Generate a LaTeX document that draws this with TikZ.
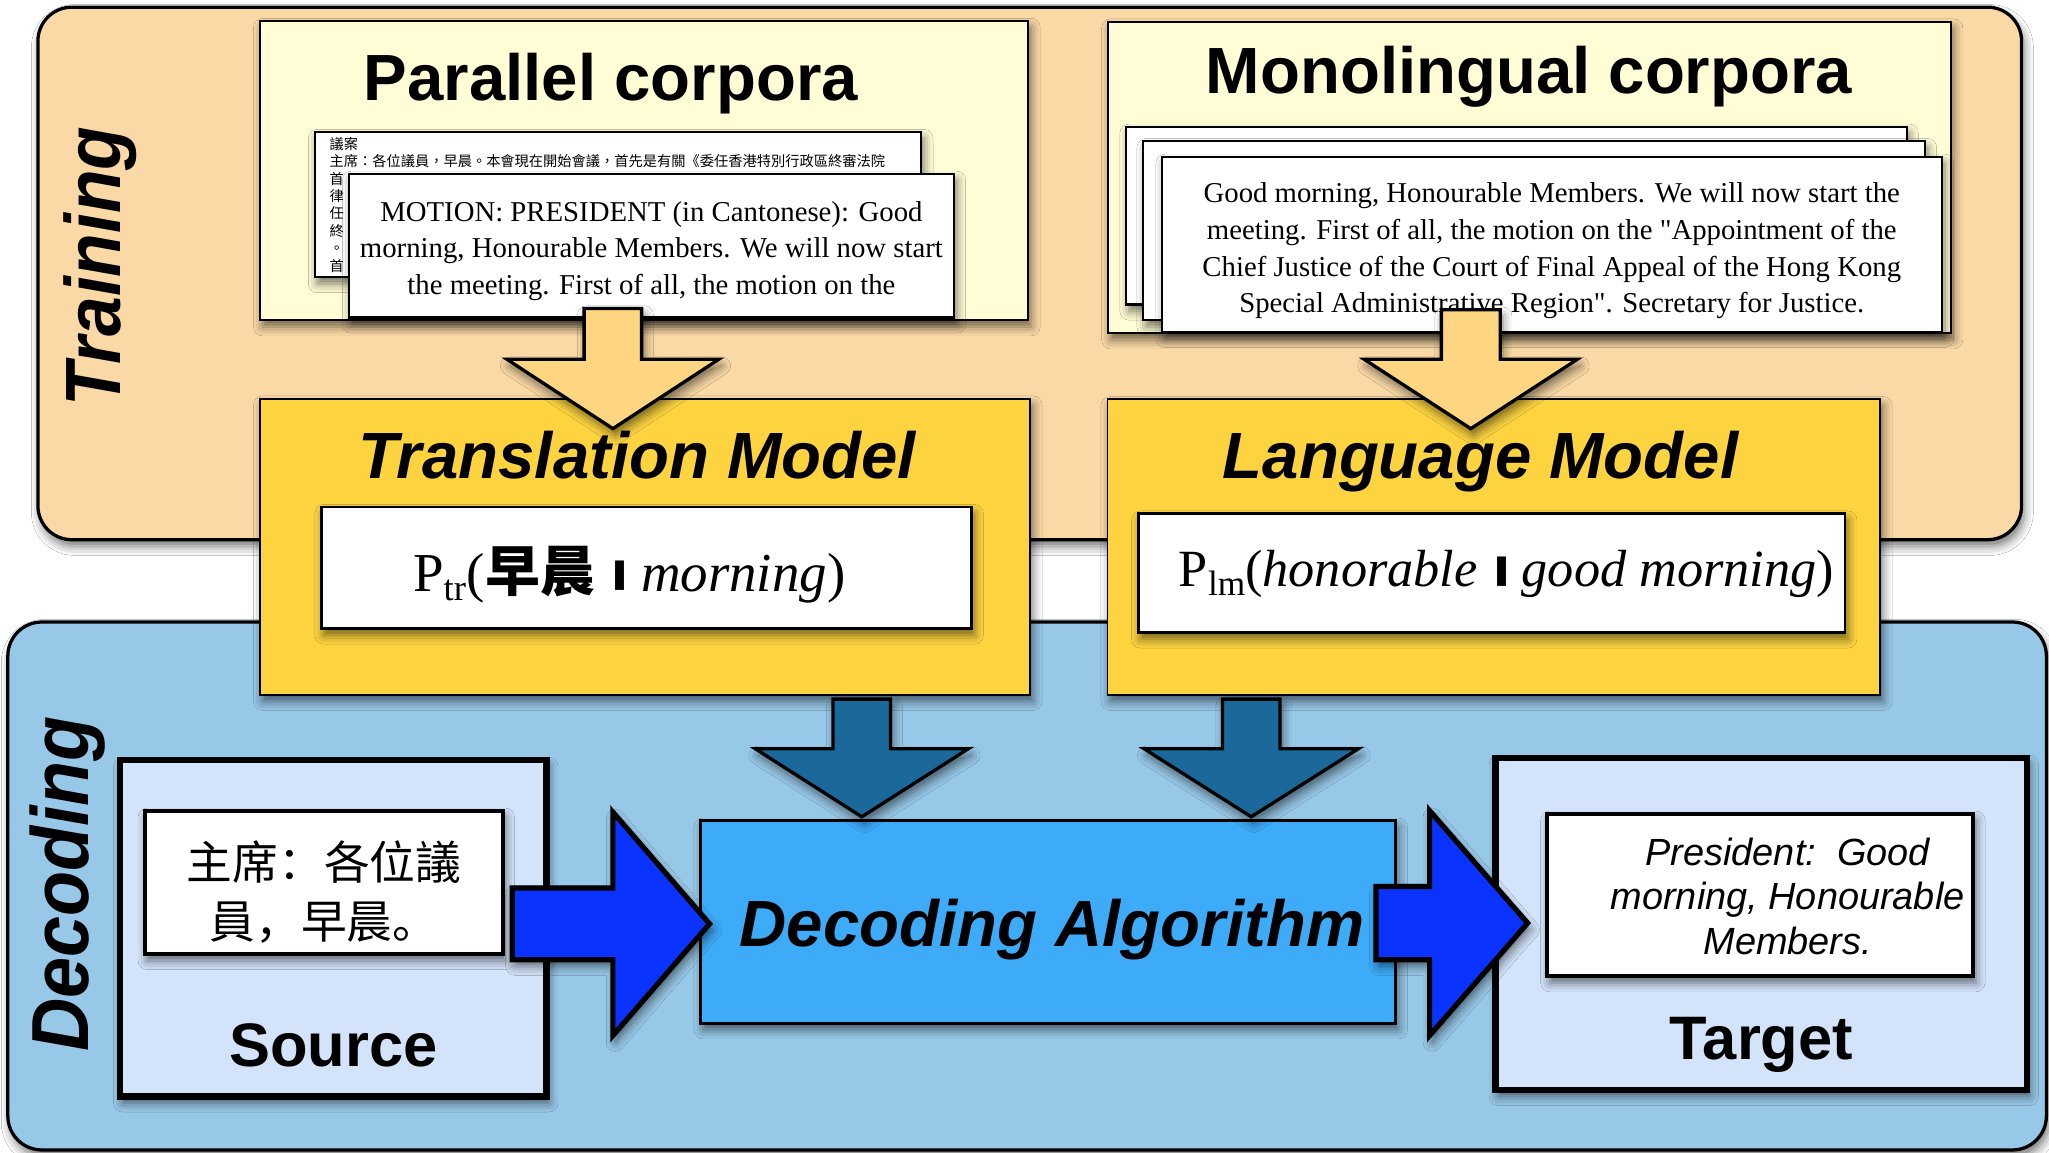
\documentclass[tikz,border=0pt]{standalone}
\usepackage{fontspec}
\usepackage{graphicx}
\setmainfont{Liberation Serif}[Ligatures=TeXOff]
\setsansfont{Liberation Sans}
\newfontfamily\cnfont{Noto Sans CJK TC}
\newfontfamily\cnsc{Noto Sans CJK SC}
\newfontfamily\narrowsans[FakeStretch=0.91]{Liberation Sans}
\usetikzlibrary{fit,shadows.blur}

\definecolor{trainbg}{HTML}{FAD9A6}
\definecolor{decbg}{HTML}{98C8E8}
\definecolor{corpbg}{HTML}{FFFCD6}
\definecolor{modelbg}{HTML}{FDD440}
\definecolor{orarrow}{HTML}{FED580}
\definecolor{darkarrow}{HTML}{1B689A}
\definecolor{algobg}{HTML}{3EABF9}
\definecolor{stbg}{HTML}{D2E3FA}
\definecolor{bluearrow}{HTML}{0A33FF}

% block arrows: style, centre, shaft half width, start, head base, head half width, tip
\newcommand\blockarrowdown[7]{\draw[#1] ({#2-#3},#4) -- ({#2+#3},#4) -- ({#2+#3},#5) -- ({#2+#6},#5) -- (#2,#7) -- ({#2-#6},#5) -- ({#2-#3},#5) -- cycle;}
\newcommand\blockarrowright[7]{\draw[#1] (#4,{#2-#3}) -- (#5,{#2-#3}) -- (#5,{#2-#6}) -- (#7,#2) -- (#5,{#2+#6}) -- (#5,{#2+#3}) -- (#4,{#2+#3}) -- cycle;}
\newcommand\condbar{{\sffamily\bfseries\fontsize{28}{28}\selectfont\raisebox{5.8pt}{\scalebox{1.9}[0.85]{|}}}}

\begin{document}
\begin{tikzpicture}[x=1pt,y=-1pt,
  shad/.style={blur shadow={shadow xshift=2pt,shadow yshift=-5pt,shadow blur radius=7pt,shadow opacity=55}},
  fitbox/.style={fit={#1},inner sep=0pt,outer sep=0pt},
  panel/.style={draw=black,line width=2.5pt,rounded corners=26pt,shad},
  corpus/.style={draw=black,line width=1.5pt,fill=corpbg,shad},
  doc/.style={draw=black,line width=1.6pt,fill=white,shad},
  model/.style={draw=black,line width=1.5pt,fill=modelbg,shad},
  formula/.style={draw=black,line width=2pt,fill=white,shad},
  algo/.style={draw=black,line width=2.5pt,fill=algobg,shad},
  stbox/.style={draw=black,line width=5pt,fill=stbg,shad},
  stinner/.style={draw=black,line width=3pt,fill=white,shad},
  orange arrow/.style={draw=black,line width=2.5pt,fill=orarrow,line join=miter,shad},
  dark arrow/.style={draw=black,line width=2.5pt,fill=darkarrow,line join=miter,shad},
  blue arrow/.style={draw=black,line width=4pt,fill=bluearrow,line join=miter,shad},
  sidelabel/.style={font=\narrowsans\bfseries\itshape\fontsize{#1}{#1}\selectfont,rotate=90,inner sep=0pt},
  corptitle/.style={font=\sffamily\bfseries\fontsize{50}{50}\selectfont,anchor=base,inner sep=0pt},
  modeltitle/.style={font=\sffamily\bfseries\itshape\fontsize{50}{50}\selectfont,anchor=base,inner sep=0pt},
  sttitle/.style={font=\sffamily\bfseries\fontsize{47}{47}\selectfont,anchor=base,inner sep=0pt},
]
\useasboundingbox[fill=white] (0,0) rectangle (1568,882);

% panels
\node[panel,fill=trainbg,fitbox={(29,5.5)(1547,413)}] (training) {};
\node[panel,fill=decbg,fitbox={(6,476)(1566,880)}] (decoding) {};
\node[sidelabel=60] (trainlabel) at (77,204) {Training};
\node[sidelabel=62] (declabel) at (52,676.5) {Decoding};

% parallel corpora
\node[corpus,fitbox={(199,16)(787,245)}] (parallel) {};
\node[corptitle] (partitle) at (467.5,77) {Parallel corpora};
\node[doc,fitbox={(241,101)(705,212)}] (pardocback) {};
\node[anchor=north west,inner sep=0pt,align=left,font=\cnfont\fontsize{10.9}{13.3}\selectfont] (pardocbacktext) at (252,105)
  {議案\\主席：各位議員，早晨。本會現在開始會議，首先是有關《委任香港特別行政區終審法院\\首\\律\\任\\終\\。\\首};
\node[doc,fitbox={(267,133)(730,243)}] (pardocfront) {};
\node[align=center,inner sep=0pt,font=\fontsize{22}{28}\selectfont] (pardoctext) at (498.5,192)
  {MOTION: PRESIDENT (in Cantonese): Good\\morning, Honourable Members. We will now start\\the meeting. First of all, the motion on the};

% monolingual corpora
\node[corpus,fitbox={(848,16.5)(1493,255)}] (mono) {};
\node[corptitle] (monotitle) at (1170,71.5) {Monolingual corpora};
\node[doc,fitbox={(862,97)(1459,233)}] (monodoca) {};
\node[doc,fitbox={(875,108)(1473,245)}] (monodocb) {};
\node[doc,fitbox={(889.5,120)(1486,254)}] (monodocc) {};
\node[align=center,inner sep=0pt,font=\fontsize{22}{28}\selectfont] (monodoctext) at (1187.5,192)
  {Good morning, Honourable Members. We will now start the\\meeting. First of all, the motion on the "Appointment of the\\Chief Justice of the Court of Final Appeal of the Hong Kong\\Special Administrative Region". Secretary for Justice.};

% models
\node[model,fitbox={(199,305)(788.5,531.7)}] (tm) {};
\node[modeltitle] (tmtitle) at (487.5,366) {Translation Model};
\node[formula,fitbox={(246,388)(743.5,481)}] (tmbox) {};
\node[anchor=base west,inner sep=0pt,font=\fontsize{42}{42}\selectfont] (tmform) at (316,452.7)
  {P\raisebox{-7pt}{\fontsize{28}{28}\selectfont tr}(\hspace{1pt}{\cnfont\bfseries 早晨}\hspace{11pt}\condbar\hspace{9pt}\textit{morning})};

\node[model,fitbox={(847.5,305.5)(1439,531.7)}] (lm) {};
\node[modeltitle] (lmtitle) at (1133,366) {Language Model};
\node[formula,fitbox={(871,393)(1412,484)}] (lmbox) {};
\node[anchor=base west,inner sep=0pt,font=\fontsize{40}{40}\selectfont] (lmform) at (902,449)
  {P\raisebox{-7pt}{\fontsize{27}{27}\selectfont lm}(\textit{honorable}\hspace{11pt}\condbar\hspace{8pt}\textit{good morning})};

% orange arrows
\blockarrowdown{orange arrow}{469}{22}{236}{275}{81}{328}
\blockarrowdown{orange arrow}{1125.5}{22.5}{237}{275}{81.5}{328}

% decoding algorithm
\node[algo,fitbox={(536,628)(1068,783)}] (algorithm) {};
\node[anchor=base,inner sep=0pt,font=\sffamily\bfseries\itshape\fontsize{50}{50}\selectfont] (algotext) at (805,724) {Decoding Algorithm};

% dark arrows
\blockarrowdown{dark arrow}{659.5}{22}{535}{573}{81.5}{625}
\blockarrowdown{dark arrow}{957.5}{22}{535}{573}{82}{625}

% source
\node[stbox,fitbox={(92,581.5)(418,839)}] (source) {};
\node[stinner,fitbox={(110.7,620.4)(384.7,730)}] (sourcebox) {};
\node[align=center,inner sep=0pt,font=\cnsc\fontsize{35}{45}\selectfont] (sourcetext) at (248,682.5) {主席：各位議\\員，早晨。};
\node[sttitle] (sourcelabel) at (255,816) {Source};

% target
\node[stbox,fitbox={(1144.6,580)(1551,834)}] (target) {};
\node[stinner,fitbox={(1184,622.7)(1510,747)}] (targetbox) {};
\node[align=center,inner sep=0pt,font=\sffamily\itshape\fontsize{29}{34}\selectfont] (targettext) at (1368,686) {President:\ \ Good\\morning, Honourable\\Members.};
\node[sttitle] (targetlabel) at (1348,811) {Target};

% blue arrows
\blockarrowright{blue arrow}{707}{27.4}{392}{469}{85.5}{543}
\blockarrowright{blue arrow}{706.4}{28}{1053}{1094}{86}{1169}
\end{tikzpicture}
\end{document}
